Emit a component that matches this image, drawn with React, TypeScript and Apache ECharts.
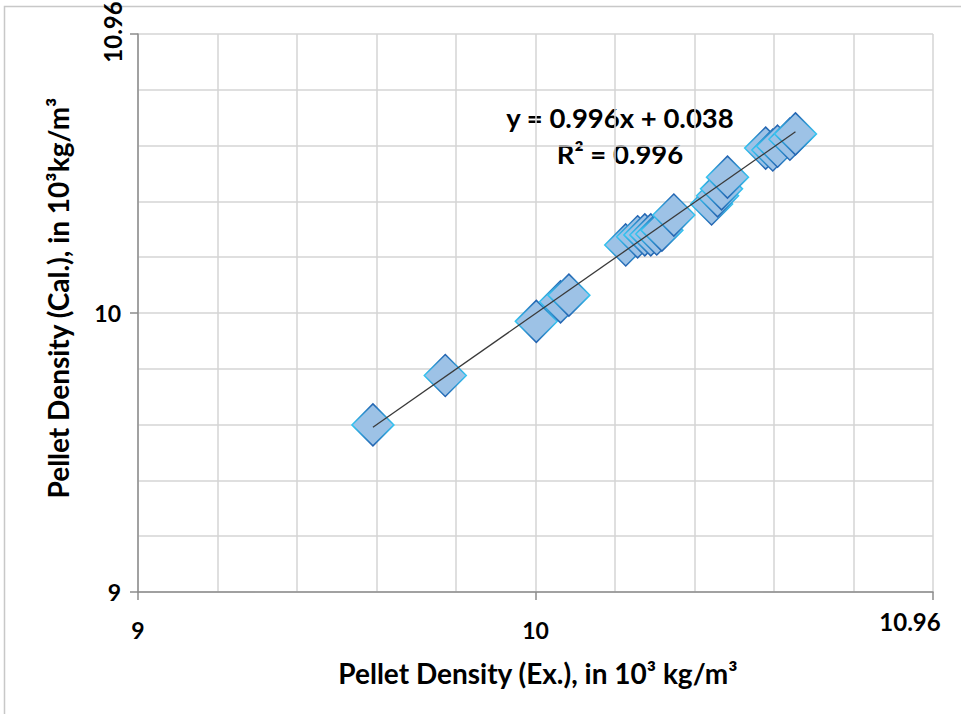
import React, { useEffect, useRef } from "react";
import * as echarts from "echarts";

const xValues = [9.591, 9.773, 10.002, 10.063, 10.084, 10.227, 10.257, 10.275, 10.29, 10.305, 10.318, 10.348, 10.443, 10.458, 10.468, 10.483, 10.579, 10.597, 10.609, 10.64, 10.654];
const yValues = [9.599, 9.776, 9.97, 10.04, 10.064, 10.244, 10.273, 10.28, 10.28, 10.283, 10.297, 10.351, 10.391, 10.42, 10.445, 10.487, 10.591, 10.584, 10.598, 10.623, 10.642];
const slope = 0.996;
const intercept = 0.038;
const axisTickLabels = ["9", "10"];
const axisEndLabel = "10.96";
const xTitle = "Pellet Density (Ex.), in 10³ kg/m³";
const yTitle = "Pellet Density (Cal.), in 10³kg/m³";
const eqText = "y = 0.996x + 0.038";
const r2Text = "R² = 0.996";

const FONT = "Lato";

export default function App() {
  const ref = useRef<HTMLDivElement>(null);
  useEffect(() => {
    document.body.style.margin = "0";
    if (!ref.current) return;
    const chart = echarts.init(ref.current, null, { renderer: "svg" });
    const pts = xValues.map((x, i) => [x, yValues[i]]);
    const xmin = Math.min(...xValues);
    const xmax = Math.max(...xValues);
    const trend = [
      [xmin, slope * xmin + intercept],
      [xmax, slope * xmax + intercept],
    ];
    const axisCommon = {
      type: "value",
      min: 9,
      max: 11,
      interval: 1,
      axisLine: { show: true, lineStyle: { color: "#8c8c8c", width: 1.5 } },
      axisTick: { show: true, length: 8, lineStyle: { color: "#8c8c8c", width: 1.5 } },
      splitLine: { show: true, lineStyle: { color: "#d4d4d4", width: 1.5 } },
      minorTick: { show: false, splitNumber: 5 },
      minorSplitLine: { show: true, lineStyle: { color: "#d4d4d4", width: 1.5 } },
    };
    const labelFmt = (v: number) => {
      if (Math.abs(v - 9) < 1e-6) return axisTickLabels[0];
      if (Math.abs(v - 10) < 1e-6) return axisTickLabels[1];
      return "";
    };
    const stroke = new echarts.graphic.LinearGradient(0, 0, 0, 1, [
      { offset: 0, color: "#2563b0" },
      { offset: 0.5, color: "#35c6f2" },
      { offset: 1, color: "#2563b0" },
    ]);
    chart.setOption({
      animation: false,
      backgroundColor: "#ffffff",
      grid: { left: 138, top: 34, right: 28, bottom: 122, containLabel: false },
      xAxis: {
        ...axisCommon,
        axisLabel: {
          formatter: labelFmt,
          margin: 26,
          fontFamily: FONT,
          fontWeight: "bold",
          fontSize: 23,
          color: "#000",
        },
      },
      yAxis: {
        ...axisCommon,
        axisLabel: {
          formatter: labelFmt,
          margin: 17,
          fontFamily: FONT,
          fontWeight: "bold",
          fontSize: 23,
          color: "#000",
        },
      },
      series: [
        {
          type: "scatter",
          data: pts,
          symbol: "diamond",
          symbolSize: 42,
          itemStyle: { color: "#9dc2e6", borderColor: stroke, borderWidth: 1.5, opacity: 1 },
          z: 2,
        },
        {
          type: "line",
          data: trend,
          symbol: "none",
          lineStyle: { color: "#3a3a3a", width: 1.3 },
          z: 3,
        },
      ],
      graphic: [
        {
          type: "rect",
          shape: { x: 4.5, y: 6.5, width: 962, height: 720 },
          style: { fill: "none", stroke: "#c8c8c8", lineWidth: 1.5 },
          silent: true,
        },
        {
          type: "text",
          x: 910,
          y: 621,
          style: { text: axisEndLabel, fill: "#000", font: `bold 24px ${FONT}`, textAlign: "center", textVerticalAlign: "middle" },
        },
        {
          type: "text",
          x: 112,
          y: 32,
          rotation: Math.PI / 2,
          style: { text: axisEndLabel, fill: "#000", font: `bold 24px ${FONT}`, textAlign: "center", textVerticalAlign: "middle" },
        },
        {
          type: "text",
          x: 538,
          y: 673,
          style: { text: xTitle, fill: "#000", font: `bold 28px ${FONT}`, textAlign: "center", textVerticalAlign: "middle" },
        },
        {
          type: "text",
          x: 58,
          y: 298,
          rotation: Math.PI / 2,
          style: { text: yTitle, fill: "#000", font: `bold 28px ${FONT}`, textAlign: "center", textVerticalAlign: "middle" },
        },
        {
          type: "text",
          x: 620,
          y: 117,
          style: { text: eqText, fill: "#000", font: `bold 27.5px ${FONT}`, textAlign: "center", textVerticalAlign: "middle" },
        },
        {
          type: "text",
          x: 620,
          y: 153,
          style: { text: r2Text, fill: "#000", font: `bold 27.5px ${FONT}`, textAlign: "center", textVerticalAlign: "middle" },
        },
      ],
    });
    return () => chart.dispose();
  }, []);
  return <div ref={ref} style={{ width: 961, height: 714 }} />;
}
